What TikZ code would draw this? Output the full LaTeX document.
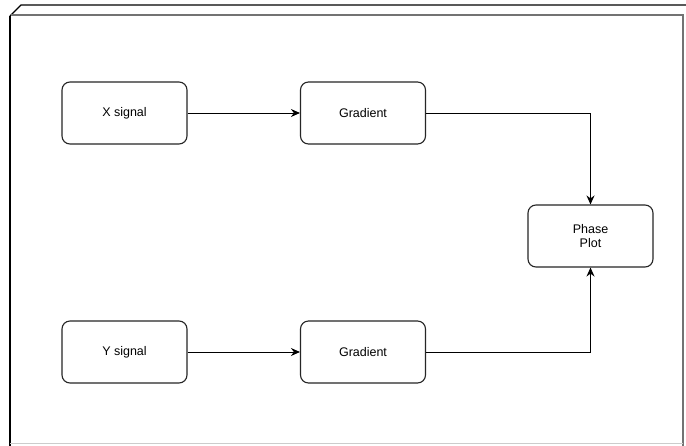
\documentclass[tikz,border=0pt]{standalone}
\usepackage{fontspec}
\setmainfont{Liberation Sans}
\usetikzlibrary{arrows.meta}
\begin{document}
\begin{tikzpicture}[x=1pt,y=-1pt,
  blockbox/.style={draw=black!85,line width=1.1pt,rounded corners=8pt,
    minimum width=125pt,minimum height=62pt,inner sep=0pt,align=center,
    font=\fontsize{12.5}{14.7}\selectfont},
  flow/.style={draw=black,line width=1pt,-{Stealth[length=9pt,width=8pt]}},
  frameline/.style={draw=black,line width=1.1pt},
  frameinner/.style={draw=black!55,line width=1.1pt}]
  \useasboundingbox (0,0) rectangle (686,445);
  \fill[white] (0,0) rectangle (686,445);
  % outer 3D frame, running past the page edge
  \begin{scope}
    \clip (0,0) rectangle (686,445);
    \draw[frameline] (10,16) -- (21,5) -- (700,5);
    \draw[frameline] (10,16) -- (10,450);
    \draw[frameinner] (11,15) -- (683,15) -- (683,450);
    \draw[draw=black!20,line width=1pt] (10,443.5) -- (683,443.5);
  \end{scope}
  % blocks
  \node[blockbox] (xs) at (124.5,113) {X signal};
  \node[blockbox] (gx) at (363,113) {Gradient};
  \node[blockbox] (ys) at (124.5,352) {Y signal};
  \node[blockbox] (gy) at (363,352) {Gradient};
  \node[blockbox] (pp) at (590.5,236) {Phase\\Plot};
  % connectors
  \draw[flow] (xs) -- (gx);
  \draw[flow] (ys) -- (gy);
  \draw[flow] (gx.east) -| (pp.north);
  \draw[flow] (gy.east) -| (pp.south);
\end{tikzpicture}
\end{document}
